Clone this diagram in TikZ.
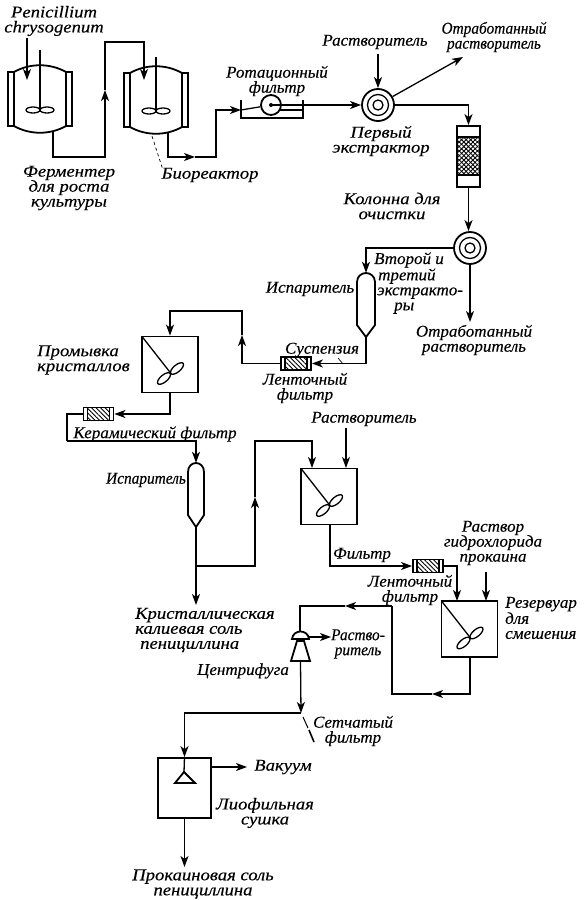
\documentclass[tikz,border=0pt]{standalone}
\usepackage{fontspec}
\setmainfont{Liberation Serif}
\newfontfamily\lblfont{Liberation Serif Italic}[FakeStretch=1.13, FakeBold=0.25]
\newfontfamily\lblmid{Liberation Serif Italic}[FakeStretch=1.03, FakeBold=0.3]
\newfontfamily\lblslim{Liberation Serif Italic}[FakeStretch=0.93, FakeBold=0.3]
\usepackage{tikz}
\usetikzlibrary{arrows.meta, patterns, patterns.meta}

\tikzset{
  pipe/.style={line width=1.3pt},
  arr/.style={-{Stealth[length=11pt,width=8pt,inset=3pt]}, line width=1.3pt},
  frame/.style={draw, line width=1.8pt},
  thinline/.style={line width=0.7pt},
  tank/.style={frame, minimum width=56, minimum height=56, inner sep=0pt},
  ring/.style={frame, circle, minimum size=32, inner sep=0pt},
  ghost/.style={minimum width=#1, inner sep=0pt},
  lbl/.style={font=\lblfont\fontsize{16.5}{15}\selectfont, inner sep=0pt, align=center},
  lblmed/.style={lbl, font=\lblmid\fontsize{16.5}{15}\selectfont},
  lblnar/.style={lbl, font=\lblslim\fontsize{16.5}{15}\selectfont},
  lleft/.style={align=left, anchor=west}
}

\newcommand{\jacketvessel}[3]{
  \node[ghost=64, minimum height=68] (#1) at (#2) {};
  \begin{scope}[shift={(#2)}]
    \draw[frame] (-32,-27) rectangle (-26,27);
    \draw[frame] (26,-27) rectangle (32,27);
    \draw[frame] (-26,-27) .. controls (-10,-36) and (10,-36) .. (26,-27) -- (26,27)
      .. controls (10,36) and (-10,36) .. (-26,27) -- cycle;
    \draw[pipe] (0,#3) -- (0,11);
    \draw[pipe] (-7,11) ellipse [x radius=7, y radius=3];
    \draw[pipe] (7,11) ellipse [x radius=7, y radius=3];
  \end{scope}
}
\newcommand{\stirtank}[2]{
  \node[tank] (#1) at (#2) {};
  \begin{scope}[shift={(#2)}]
    \draw[pipe] (-28,-28) -- (1,9);
    \draw[pipe] (7,4) ellipse [x radius=8, y radius=3.5, rotate=40];
    \draw[pipe] (-6,14) ellipse [x radius=8, y radius=3.5, rotate=40];
  \end{scope}
}
\newcommand{\extractor}[2]{
  \node[ring] (#1) at (#2) {};
  \draw[pipe] (#2) circle (10.5);
  \draw[pipe] (#2) circle (5);
}
\newcommand{\evaporator}[3]{
  \node[ghost=#3, minimum height=64] (#1) at (#2) {};
  \begin{scope}[shift={(#2)}]
    \draw[frame] (-#3/2,-23) .. controls (-#3/2,-29) and (-4,-32) .. (0,-32)
      .. controls (4,-32) and (#3/2,-29) .. (#3/2,-23) -- (#3/2,20) -- (0,32) -- (-#3/2,20) -- cycle;
  \end{scope}
}
\newcommand{\beltfilter}[2]{
  \node[frame, minimum width=30, minimum height=13, inner sep=0pt] (#1) at (#2) {};
  \begin{scope}[shift={(#2)}]
    \fill[pattern={Lines[angle=-45, distance=3.2pt, line width=0.9pt]}] (-11,-6) rectangle (11,6);
    \draw[pipe] (-11,-6) -- (-11,6);
    \draw[pipe] (11,-6) -- (11,6);
  \end{scope}
}

\begin{document}
\begin{tikzpicture}[x=1pt, y=-1pt]
\useasboundingbox (0,0) rectangle (584,900);

\jacketvessel{ferm}{40,99}{-49}
\jacketvessel{bio}{156,100}{-43}

\node[frame, circle, minimum size=20, inner sep=0pt] (rot) at (271,105) {};
\fill (271,105) circle (2);
\coordinate (rotin) at (241,110);
\coordinate (rotout) at (303,105);
\draw[pipe] (241,100) -- (241,118) -- (303,118) -- (303,100);
\draw[pipe] (271,105) -- (rotout);
\draw[pipe] (279,110) -- (303,110);

\extractor{exa}{378,105}
\extractor{exb}{470,248}

\node[frame, minimum width=23, minimum height=61, inner sep=0pt] (col) at (468.5,156.5) {};
\fill[pattern={Lines[angle=45, distance=3.2pt, line width=0.9pt]}] (457,137) rectangle (480,175);
\fill[pattern={Lines[angle=-45, distance=3.2pt, line width=0.9pt]}] (457,137) rectangle (480,175);
\draw[pipe] (457,137) -- (480,137) (457,175) -- (480,175);

\evaporator{evapa}{366,305}{18}
\evaporator{evapb}{196,495}{16}

\beltfilter{fila}{296,363.5}
\beltfilter{filb}{98.5,414}
\beltfilter{filc}{428,566}

\stirtank{wash}{170,364.5}
\stirtank{mixa}{329,496.5}
\stirtank{mixb}{469.5,629}

\node[ghost=20, minimum height=31] (cent) at (300.5,646) {};
\draw[frame] (292,639) .. controls (293,629) and (308,629) .. (309,639) -- cycle;
\draw[frame] (297,641) -- (304,641) -- (310,661) -- (291,661) -- cycle;

\node[frame, minimum width=53, minimum height=60, inner sep=0pt] (dry) at (184.5,788) {};
\draw[frame] (184,772) -- (195,783) -- (175,783) -- cycle;
\draw[pipe] (dry.north) -- (184,772);

\node[lbl] (peni) at (54,21) {Penicillium\\chrysogenum};
\node[lbl] (fermlbl) at (69,188) {Ферментер\\для роста\\культуры};
\node[lbl] (biolbl) at (210,175) {Биореактор};
\node[lblmed] (rotlbl) at (277,81) {Ротационный\\фильтр};
\node[lblmed] (solva) at (375,42) {Растворитель};
\node[lblnar] (wastea) at (494,37) {Отработанный\\растворитель};
\node[lbl] (exalbl) at (381,141) {Первый\\экстрактор};
\node[lbl] (collbl) at (392,206) {Колонна для\\очистки};
\node[lblmed, lleft] (exblbl) at (374,283) {Второй и\\\hspace*{4pt}третий\\\hspace*{3pt}экстракто-\\\hspace*{20pt}ры};
\node[lblmed] (evapalbl) at (310,289) {Испаритель};
\node[lblmed] (wasteb) at (474,340) {Отработанный\\растворитель};
\node[lblmed] (susp) at (322,350) {Суспензия};
\node[lblmed] (filalbl) at (305,388) {Ленточный\\фильтр};
\node[lbl, lleft] (washlbl) at (37,360) {Промывка\\кристаллов};
\node[lblmed] (filblbl) at (155,434) {Керамический фильтр};
\node[lblnar] (evapblbl) at (146,480) {Испаритель};
\node[lblmed] (solvb) at (364,419) {Растворитель};
\node[lblmed] (fltr) at (362,555) {Фильтр};
\node[lblmed] (procsol) at (493,543) {Раствор\\гидрохлорида\\прокаина};
\node[lblmed] (filclbl) at (410,590) {Ленточный\\фильтр};
\node[lblmed, lleft] (mixblbl) at (505,618) {Резервуар\\для\\смешения};
\node[lbl, lleft] (kalt) at (135,630) {Кристаллическая\\калиевая соль\\\hspace*{5pt}пенициллина};
\node[lblnar] (solvc) at (358,644) {Раство-\\ритель};
\node[lblmed] (centlbl) at (243,671) {Центрифуга};
\node[lblmed] (sievelbl) at (353,731) {Сетчатый\\фильтр};
\node[lbl] (vac) at (283,767) {Вакуум};
\node[lbl] (drylbl) at (265,813) {Лиофильная\\сушка};
\node[lbl] (prok) at (203,884) {Прокаиновая соль\\пенициллина};

\coordinate (fermin) at (27,80);
\coordinate (fermsrc) at (27,38);
\coordinate (fermout) at (53,131);
\coordinate (upa) at (105,90);
\coordinate (bioin) at (144,80);
\coordinate (bioout) at (168,133);
\coordinate (riga) at (195,157);
\coordinate (sieve) at (301,713);

\draw[arr] (fermsrc) -- (fermin);
\draw[arr] (fermout) |- (105,157) -- (upa);
\draw[arr] (upa) |- (bioin |- 0,42) -- (bioin);
\draw[arr] (bioout) |- (riga);
\draw[arr] (riga) -| (216,110) -- (rotin);
\draw[pipe] (rotin) -- (rot);
\draw[arr] (rotout) -- (exa.west);
\draw[arr] (378,54) -- (exa.north);
\draw[arr] (exa.30) -- (463,57);
\draw[arr] (exa.east) -| (col.north);
\draw[arr] (col.south) -- (col.south |- exb.north);
\draw[arr] (exb.west) -| (evapa.north);
\draw[arr] (exb.south) -- (exb.south |- 0,322);
\draw[arr] (evapa.south) |- (fila.east);
\draw[thinline] (338,358) -- (343,364);

\coordinate (upb) at (242,335);
\draw[arr] (fila.west) -| (upb);
\draw[arr] (upb) |- (wash.north |- 0,311) -- (wash.north);
\draw[arr] (wash.south) |- (filb.east);

\coordinate (joinb) at (67,441);
\draw[pipe] (filb.west) -| (joinb);
\draw[arr] (joinb) -| (evapb.north);
\draw[arr] (evapb.south) -- (196,605);

\coordinate (upc) at (255,497);
\draw[arr] (196,566) -| (upc);
\draw[arr] (upc) |- (312,441) -- (312,468);
\draw[arr] (346,428) -- (346,468);
\draw[arr] (330,525) |- (filc.west);
\draw[arr] (filc.east) -| (457,601);
\draw[arr] (486,572) -- (486,601);

\coordinate (lefta) at (432,694);
\coordinate (leftb) at (345,606);
\draw[arr] (470,657) |- (lefta);
\draw[pipe] (lefta) -| (392,606);
\draw[arr] (392,606) -- (leftb);
\draw[pipe] (leftb) -| (300,631);
\draw[arr] (309,637) -- (331,637);
\draw[arr] (cent.south) -- (sieve);
\draw[arr] (sieve) -| (dry.north);
\draw[arr] (dry.east |- 0,767) -- (247,767);
\draw[arr] (dry.south) -- (184.5,867);

\draw[thinline, dash pattern=on 3pt off 3pt] (bio.south) ++(-4,2) -- (163,170);
\draw[line width=1pt] (303,717) -- (308,728);
\draw[line width=1.6pt] (309,730) -- (314,742);
\end{tikzpicture}
\end{document}
